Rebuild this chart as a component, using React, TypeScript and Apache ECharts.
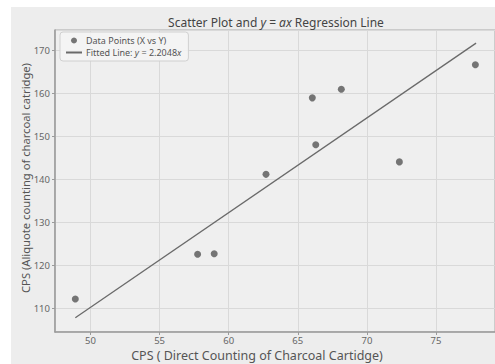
import React, { useEffect, useRef } from "react";
import * as echarts from "echarts";

const xValues = [48.9, 57.75, 58.95, 62.7, 66.05, 66.3, 68.15, 72.35, 77.85];
const yValues = [112.2, 122.6, 122.7, 141.2, 159.0, 148.1, 161.0, 144.1, 166.7];
const fitX = [48.9, 77.9];
const fitY = [107.8, 171.75];
const titleText = "Scatter Plot and {i|y} = {i|ax} Regression Line";
const xLabel = "CPS ( Direct Counting of Charcoal Cartidge)";
const yLabel = "CPS (Aliquote counting of charcoal catridge)";
const legendPoints = "Data Points (X vs Y)";
const legendLine = "Fitted Line: y = 2.2048x";

const FONT = "'Noto Sans', sans-serif";

export default function App() {
  const ref = useRef<HTMLDivElement>(null);
  useEffect(() => {
    if (!ref.current) return;
    const chart = echarts.init(ref.current, undefined, { renderer: "svg" });
    const pts = xValues.map((x, i) => [x, yValues[i]]);
    const line = fitX.map((x, i) => [x, fitY[i]]);
    chart.setOption({
      animation: false,
      backgroundColor: "#ffffff",
      textStyle: { fontFamily: FONT },
      graphic: [
        {
          type: "rect",
          z: -100,
          silent: true,
          shape: { x: 11, y: 7, width: 484, height: 357 },
          style: { fill: "#ededed" },
        },
        {
          type: "text",
          x: 257,
          y: 355,
          style: {
            text: xLabel,
            fill: "#555",
            font: `12.5px ${FONT}`,
            textAlign: "center",
            textVerticalAlign: "middle",
          },
        },
        {
          type: "text",
          x: 25,
          y: 178,
          rotation: Math.PI / 2,
          style: {
            text: yLabel,
            fill: "#555",
            font: `11.2px ${FONT}`,
            textAlign: "center",
            textVerticalAlign: "middle",
          },
        },
        {
          type: "text",
          x: 276,
          y: 22,
          style: {
            text: titleText,
            fill: "#444",
            font: `12px ${FONT}`,
            textAlign: "center",
            textVerticalAlign: "middle",
            rich: {
              i: { fontStyle: "italic", fontSize: 12, fill: "#444", fontFamily: FONT },
            },
          },
        },
      ],
      legend: {
        left: 60,
        top: 32,
        orient: "vertical",
        itemGap: 3,
        itemWidth: 16,
        itemHeight: 6,
        padding: [4, 7, 4, 5],
        backgroundColor: "rgba(244,244,244,0.85)",
        borderColor: "#d0d0d0",
        borderWidth: 1,
        borderRadius: 3,
        data: [
          { name: legendPoints, icon: "circle" },
          { name: legendLine, itemStyle: { opacity: 0 } },
        ],
        formatter: (name: string) =>
          name === legendLine ? "Fitted Line: {i|y} = 2.2048{i|x}" : name,
        textStyle: {
          fontSize: 9,
          color: "#555",
          fontFamily: FONT,
          padding: [0, 0, 0, -1],
          rich: { i: { fontStyle: "italic", fontSize: 9, color: "#555", fontFamily: FONT } },
        },
      },
      grid: {
        left: 55,
        right: -2,
        top: 30,
        bottom: 32,
        show: true,
        backgroundColor: "#efefef",
        borderColor: "#a8a8a8",
        borderWidth: 1,
      },
      xAxis: {
        type: "value",
        min: 47.43,
        max: 79.27,
        splitNumber: 7,
        axisLine: { show: true, lineStyle: { color: "#9a9a9a", width: 1.5 } },
        axisTick: { show: true, length: 3, lineStyle: { color: "#9a9a9a" } },
        axisLabel: {
          showMinLabel: false,
          showMaxLabel: false,
          color: "#666",
          fontSize: 9.5,
          margin: 3,
          fontFamily: FONT,
        },
        splitLine: { show: true, lineStyle: { color: "#d9d9d9", width: 1 } },
      },
      yAxis: {
        type: "value",
        min: 104.5,
        max: 174.8,
        splitNumber: 7,
        axisLine: { show: true, lineStyle: { color: "#9a9a9a", width: 1.5 } },
        axisTick: { show: true, length: 3, lineStyle: { color: "#9a9a9a" } },
        axisLabel: {
          showMinLabel: false,
          showMaxLabel: false,
          color: "#666",
          fontSize: 9.5,
          margin: 5,
          fontFamily: FONT,
        },
        splitLine: { show: true, lineStyle: { color: "#d9d9d9", width: 1 } },
      },
      series: [
        {
          name: legendPoints,
          type: "scatter",
          data: pts,
          symbolSize: 7,
          itemStyle: { color: "#555555" },
          z: 3,
        },
        {
          name: legendLine,
          type: "line",
          data: line,
          symbol: "none",
          lineStyle: { color: "#6a6a6a", width: 1.3 },
          itemStyle: { color: "#6a6a6a" },
          z: 2,
        },
      ],
    });
    return () => chart.dispose();
  }, []);
  return (
    <div
      ref={ref}
      style={{ position: "fixed", left: 0, top: 0, width: 495, height: 364 }}
    />
  );
}
